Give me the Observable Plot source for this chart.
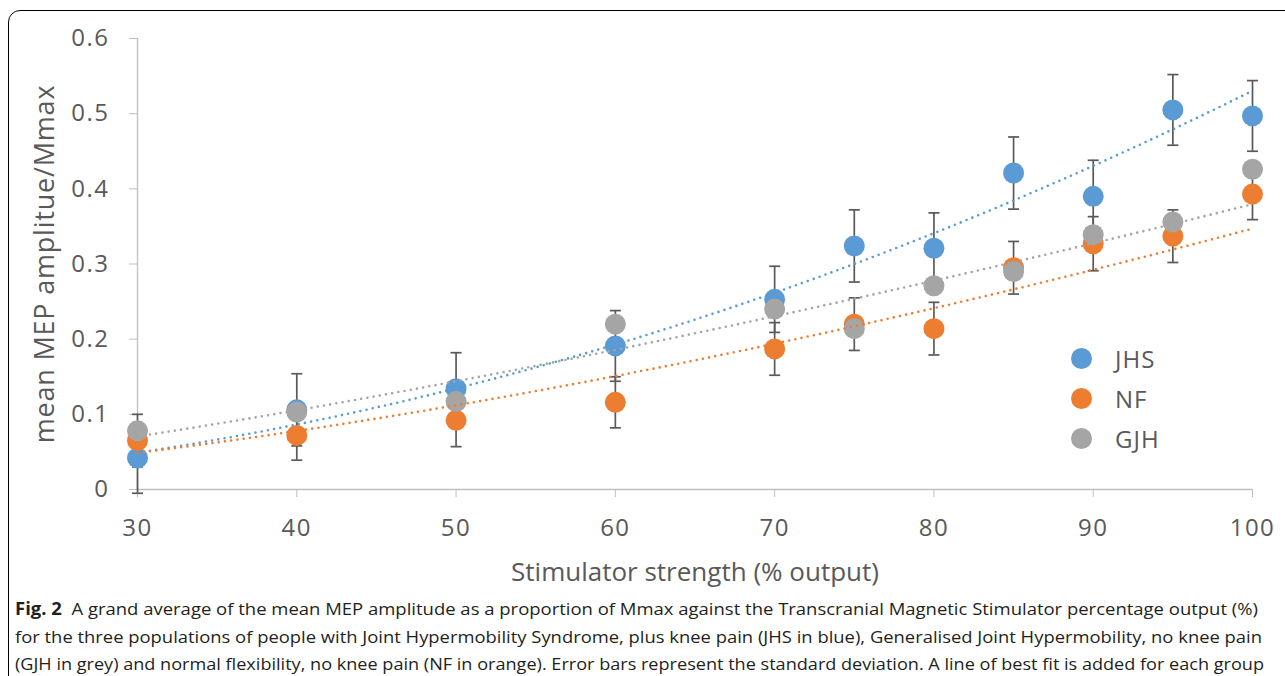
<!DOCTYPE html>
<html>
<head>
<meta charset="utf-8">
<script src="https://cdn.jsdelivr.net/npm/d3@7"></script>
<script src="https://cdn.jsdelivr.net/npm/@observablehq/plot@0.6"></script>
<style>
  html, body { margin: 0; padding: 0; background: #fff; overflow: hidden; }
  #wrap { position: relative; width: 1285px; height: 676px; overflow: hidden; }
  #frame { position: absolute; left: 8px; top: 10px; width: 1320px; height: 720px;
           border: 1.5px solid #000; border-radius: 12px; box-sizing: border-box; }
  #chart { position: absolute; left: 0; top: 0; }
  #chart [aria-label$="tick label"] text { letter-spacing: 1.5px; }
  .legend { position: absolute; left: 1071px; font-family: "Open Sans", sans-serif;
            font-size: 24px; color: #595959; letter-spacing: 1px; }
  .legend .row { position: absolute; left: 0; height: 22px; display: flex; align-items: center; white-space: nowrap; }
  .legend .sw { width: 21px; height: 21px; border-radius: 50%; margin-right: 23px; }
  .cap { position: absolute; left: 15px; font-family: "Open Sans", sans-serif; font-size: 17px;
         color: #231f20; white-space: nowrap; transform-origin: 0 50%; line-height: 20px; }
</style>
</head>
<body>
<div id="wrap">
  <div id="frame"></div>
  <div id="chart"></div>
  <div class="legend" id="legend"></div>
  <div class="cap" id="cap1" style="top:599px"><b>Fig. 2</b>&nbsp; A grand average of the mean MEP amplitude as a proportion of Mmax against the Transcranial Magnetic Stimulator percentage output (%)</div>
  <div class="cap" id="cap2" style="top:627px">for the three populations of people with Joint Hypermobility Syndrome, plus knee pain (JHS in blue), Generalised Joint Hypermobility, no knee pain</div>
  <div class="cap" id="cap3" style="top:654px">(GJH in grey) and normal flexibility, no knee pain (NF in orange). Error bars represent the standard deviation. A line of best fit is added for each group</div>
</div>
<script>
// ---- data ----
const strengths = [30, 40, 50, 60, 70, 75, 80, 85, 90, 95, 100];
const jhs   = [0.042, 0.106, 0.134, 0.191, 0.253, 0.324, 0.321, 0.421, 0.390, 0.505, 0.497];
const jhsSD = [0.047, 0.048, 0.048, 0.047, 0.044, 0.048, 0.047, 0.048, 0.048, 0.047, 0.047];
const nf    = [0.065, 0.072, 0.092, 0.116, 0.187, 0.220, 0.214, 0.295, 0.327, 0.337, 0.393];
const nfSD  = [0.035, 0.033, 0.035, 0.034, 0.035, 0.035, 0.035, 0.035, 0.036, 0.035, 0.034];
const gjh   = [0.078, 0.103, 0.117, 0.220, 0.240, 0.214, 0.271, 0.290, 0.339, 0.356, 0.426];
const groups = ["JHS", "NF", "GJH"];
const colors = ["#5B9BD5", "#ED7D31", "#A5A5A5"];
const xTicks = [30, 40, 50, 60, 70, 80, 90, 100];
const yTicks = [0, 0.1, 0.2, 0.3, 0.4, 0.5, 0.6];
const yTickLabels = ["0", "0.1", "0.2", "0.3", "0.4", "0.5", "0.6"];
const xTitle = "Stimulator strength (% output)";
const yTitle = "mean MEP amplitue/Mmax";

// ---- tables ----
const series = [
  {group: "JHS", values: jhs, sd: jhsSD},
  {group: "NF", values: nf, sd: nfSD},
  {group: "GJH", values: gjh, sd: null}
];
const points = series.flatMap(s => strengths.map((x, i) => ({group: s.group, x, y: s.values[i]})));
const bars = series.filter(s => s.sd).flatMap(s => strengths.map((x, i) => ({
  group: s.group, x, lo: s.values[i] - s.sd[i], hi: s.values[i] + s.sd[i]})));
const capEnds = bars.flatMap(b => [{x: b.x, y: b.lo}, {x: b.x, y: b.hi}]);

// power trendline (least squares of ln y on ln x), as Excel's "Power" trendline
function powerFit(xs, ys) {
  const lx = xs.map(Math.log), ly = ys.map(Math.log);
  const mx = d3.mean(lx), my = d3.mean(ly);
  const b = d3.sum(lx, (v, i) => (v - mx) * (ly[i] - my)) / d3.sum(lx, v => (v - mx) ** 2);
  const a = my - b * mx;
  return x => Math.exp(a + b * Math.log(x));
}
const fits = series.flatMap(s => {
  const f = powerFit(strengths, s.values);
  return d3.range(strengths[0], strengths[strengths.length - 1] + 0.001, 0.5).map(x => ({group: s.group, x, y: f(x)}));
});

const capSymbol = {
  draw(ctx, size) { const r = Math.sqrt(size / Math.PI); ctx.moveTo(-r, 0); ctx.lineTo(r, 0); }
};

const colorOf = g => colors[groups.indexOf(g)];

const chart = Plot.plot({
  width: 1285, height: 595,
  marginLeft: 137, marginRight: 33, marginTop: 38, marginBottom: 106,
  style: {fontFamily: "Open Sans, sans-serif", color: "#595959", background: "transparent", overflow: "visible"},
  x: {domain: [30, 100]},
  y: {domain: [0, 0.6]},
  marks: [
    Plot.ruleX([30], {stroke: "#bfbfbf", strokeWidth: 1.3}),
    Plot.ruleY([0], {stroke: "#bfbfbf", strokeWidth: 1.3}),
    Plot.axisY({ticks: yTicks, tickFormat: (d) => yTickLabels[yTicks.indexOf(d)], tickSize: 8, tickPadding: 20,
                stroke: "#bfbfbf", fill: "#595959", fontSize: 24, label: null}),
    Plot.axisX({ticks: xTicks, tickFormat: d => String(d), tickSize: 8, tickPadding: 21,
                stroke: "#bfbfbf", fill: "#595959", fontSize: 24, label: null}),
    Plot.text([yTitle], {frameAnchor: "left", dx: -92, rotate: -90, fontSize: 27, fill: "#595959", textAnchor: "middle", lineAnchor: "middle"}),
    Plot.text([xTitle], {frameAnchor: "bottom", dy: 83, fontSize: 26, fill: "#595959", textAnchor: "middle", lineAnchor: "middle"}),
    // error bars
    Plot.ruleX(bars, {x: "x", y1: "lo", y2: "hi", stroke: "#595959", strokeWidth: 1.7}),
    Plot.dot(capEnds, {x: "x", y: "y", symbol: capSymbol, r: 5.5, stroke: "#595959", strokeWidth: 1.7, fill: "none"}),
    // markers
    ...groups.map(g => Plot.dot(points.filter(p => p.group === g), {x: "x", y: "y", r: 10.5, fill: colorOf(g), stroke: "none"})),
    // trendlines
    ...groups.map(g => Plot.line(fits.filter(p => p.group === g), {x: "x", y: "y", stroke: colorOf(g), strokeWidth: 2.6,
                strokeDasharray: "0 6.3", strokeLinecap: "round", curve: "linear"}))
  ]
});
document.getElementById("chart").appendChild(chart);
d3.select(chart).selectAll("text").filter(function() { return this.textContent === yTitle; })
  .style("letter-spacing", "0.8px");

// legend
const leg = document.getElementById("legend");
const legendY = [347, 387, 427];
groups.forEach((g, i) => {
  const row = document.createElement("div");
  row.className = "row";
  row.style.top = legendY[i] + "px";
  row.innerHTML = `<span class="sw" style="background:${colors[i]}"></span><span>${g}</span>`;
  leg.appendChild(row);
});

// caption lines fitted to their widths
const capWidths = {cap1: 1243, cap2: 1247, cap3: 1249};
Object.entries(capWidths).forEach(([id, w]) => {
  const el = document.getElementById(id);
  const actual = el.getBoundingClientRect().width;
  el.style.transform = `scaleX(${w / actual})`;
});
</script>
</body>
</html>
